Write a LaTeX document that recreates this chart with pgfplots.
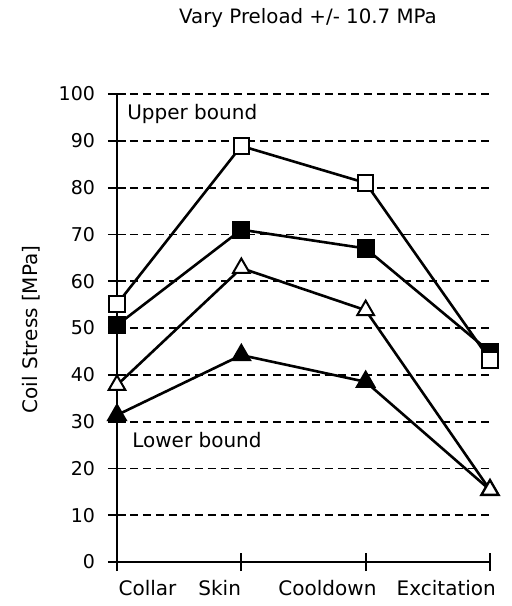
\documentclass[border=0pt]{standalone}
\usepackage{pgfplots}
\pgfplotsset{compat=1.18}
\usepackage{fontspec}
\setmainfont{DejaVu Sans}
\begin{document}
\begin{tikzpicture}
\begin{axis}[
  scale only axis,
  width=186.5pt, height=234pt,
  xmin=0, xmax=3, ymin=0, ymax=100,
  axis x line=bottom, axis y line=left,
  axis line style={-, line width=1.1pt},
  xtick={0,1,2,3},
  xticklabels={},
  ytick={0,10,...,100},
  tick align=center,
  major tick length=9pt,
  tick style={line width=0.9pt, black},
  ymajorgrids,
  grid style={dash pattern=on 4pt off 2.5pt, line width=0.9pt, black},
  font=\fontsize{10}{12}\selectfont,
  yticklabel style={font=\fontsize{9.5}{11}\selectfont, xshift=-3pt},
  /pgf/number format/assume math mode=true,
  every axis title shift=0pt,
  title={Vary Preload +/- 10.7 MPa},
  title style={at={(0.512,1.162)}, anchor=center, font=\fontsize{9.9}{12}\selectfont},
  ylabel={Coil Stress [MPa]},
  y label style={at={(axis description cs:-0.23,0.497)}, anchor=center},
  clip=false,
  every axis plot/.append style={line width=1.3pt, black},
]
\addplot[mark=triangle*, mark size=4.8pt, mark options={fill=black}] coordinates {(0,31.4) (1,44.2) (2,38.5) (3,15.4)};
\addplot[mark=square*, mark size=3.9pt, mark options={fill=black}] coordinates {(0,50.6) (1,71) (2,67) (3,44.9)};
\addplot[mark=triangle*, mark size=4.8pt, mark options={fill=white, draw=black, line width=1pt}] coordinates {(0,37.8) (1,62.8) (2,53.8) (3,15.4)};
\addplot[mark=square*, mark size=3.9pt, mark options={fill=white, draw=black, line width=1pt}] coordinates {(0,55.1) (1,88.9) (2,81) (3,43.2)};
\node[anchor=west, inner sep=0pt] at (axis cs:0.08,95.8) {Upper bound};
\node[anchor=west, inner sep=0pt] at (axis cs:0.12,26) {Lower bound};
\node[anchor=base west, inner sep=0pt] at ([yshift=-16.5pt]axis cs:0.01,0) {Collar};
\node[anchor=base east, inner sep=0pt] at ([yshift=-16.5pt]axis cs:1,0) {Skin};
\node[anchor=base east, inner sep=0pt] at ([yshift=-16.5pt]axis cs:2.09,0) {Cooldown};
\node[anchor=base east, inner sep=0pt] at ([yshift=-16.5pt]axis cs:3.05,0) {Excitation};
\end{axis}
\pgfresetboundingbox
\path (-58.5pt,-22pt) rectangle (197.5pt,281pt);
\end{tikzpicture}
\end{document}
